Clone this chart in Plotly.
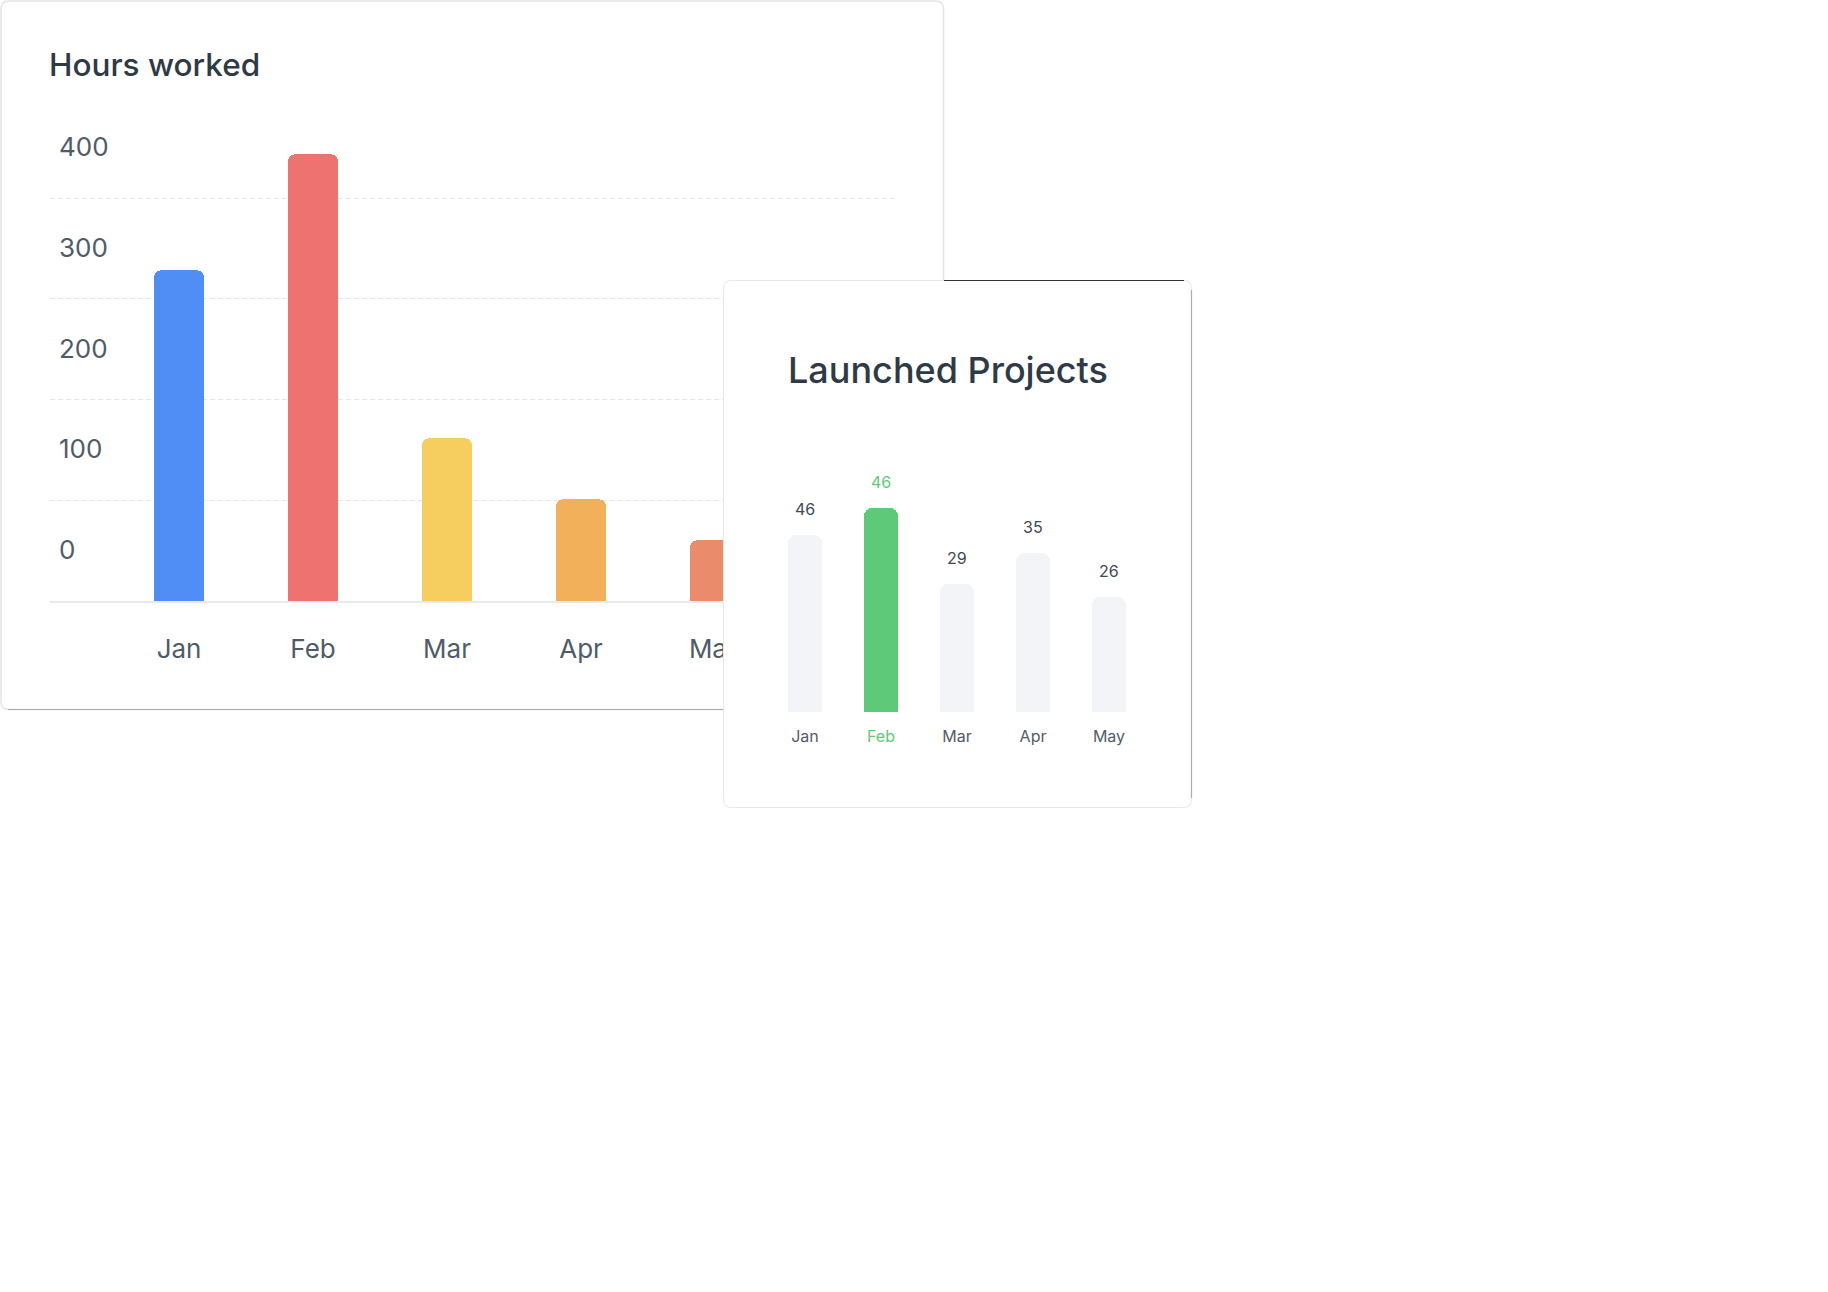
import plotly.graph_objects as go

W, H = 1828, 1292

# ---------------- data ----------------
# Card 1: Hours worked
hours_months = ["Jan", "Feb", "Mar", "Apr", "May"]
hours_values = [328, 443, 162, 101, 60]
hours_colors = ["#508ef5", "#ee7270", "#f6cd5f", "#f2b05a", "#ea8b6b"]
hours_tickvals = [0, 100, 200, 300, 400]
hours_ticktext = ["0", "100", "200", "300", "400"]

# Card 2: Launched Projects
proj_months = ["Jan", "Feb", "Mar", "Apr", "May"]
proj_values = [40, 46, 29, 36, 26]
proj_labels = ["46", "46", "29", "35", "26"]
proj_highlight = "Feb"

GREEN = "#5ec978"
GREY_BAR = "#f3f4f8"
TEXT_DARK = "#2e3a45"
TEXT_AXIS = "#4f5b69"
FONT = "Inter"


def fx(px):
    return px / W


def fy(py):
    return 1 - py / H


def rr_path(x0, y0, x1, y1, r):
    def P(x, y):
        return f"{fx(x):.6f},{fy(y):.6f}"
    return (f"M {P(x0 + r, y0)} L {P(x1 - r, y0)} Q {P(x1, y0)} {P(x1, y0 + r)} "
            f"L {P(x1, y1 - r)} Q {P(x1, y1)} {P(x1 - r, y1)} L {P(x0 + r, y1)} "
            f"Q {P(x0, y1)} {P(x0, y1 - r)} L {P(x0, y0 + r)} Q {P(x0, y0)} {P(x0 + r, y0)} Z")


fig = go.Figure()

# Card 1 bars
fig.add_trace(go.Bar(
    x=hours_months, y=hours_values, marker=dict(color=hours_colors, cornerradius=7, line=dict(width=0)),
    width=0.373, xaxis="x", yaxis="y", hoverinfo="skip", showlegend=False,
))

# Card 2 bars
proj_colors = [GREEN if m == proj_highlight else GREY_BAR for m in proj_months]
fig.add_trace(go.Bar(
    x=proj_months, y=proj_values, marker=dict(color=proj_colors, cornerradius=8, line=dict(width=0)),
    width=0.447, xaxis="x2", yaxis="y2", hoverinfo="skip", showlegend=False,
))

proj_ticktext = [f"<span style='color:{GREEN}'>{m}</span>" if m == proj_highlight else m for m in proj_months]

annotations = [
    dict(text="Hours worked", x=fx(46.5), y=fy(64.5), xref="paper", yref="paper",
         xanchor="left", yanchor="middle", showarrow=False,
         font=dict(family=FONT, size=31.5, color=TEXT_DARK, weight=500)),
    dict(text="Launched Projects", x=fx(786), y=fy(370), xref="paper", yref="paper",
         xanchor="left", yanchor="middle", showarrow=False,
         font=dict(family=FONT, size=36, color=TEXT_DARK, weight=500)),
]
for m, v, lab in zip(proj_months, proj_values, proj_labels):
    annotations.append(dict(
        text=lab, x=m, y=v, xref="x2", yref="y2", yshift=26, xanchor="center", yanchor="middle",
        showarrow=False,
        font=dict(family=FONT, size=16, color=GREEN if m == proj_highlight else "#3f4854")))

shapes = [
    # card 1
    dict(type="path", path=rr_path(1, 1, 943.5, 709.5, 8), xref="paper", yref="paper",
         line=dict(color="#e1e4e9", width=1.5), fillcolor="rgba(0,0,0,0)", layer="below"),
    dict(type="line", x0=fx(8), x1=fx(936), y0=fy(709.5), y1=fy(709.5), xref="paper", yref="paper",
         line=dict(color="#a8abb0", width=1.2), layer="below"),
    # card 2
    dict(type="path", path=rr_path(723.5, 280.5, 1191.5, 807.5, 8), xref="paper", yref="paper",
         line=dict(color="#e6e8eb", width=1), fillcolor="rgba(0,0,0,0)", layer="above"),
    dict(type="line", x0=fx(944), x1=fx(1184), y0=fy(280.5), y1=fy(280.5), xref="paper", yref="paper",
         line=dict(color="#333333", width=1.2), layer="above"),
    dict(type="line", x0=fx(1191.5), x1=fx(1191.5), y0=fy(290), y1=fy(798), xref="paper", yref="paper",
         line=dict(color="#a9adb3", width=1.2), layer="above"),
]

fig.update_layout(
    width=W, height=H, margin=dict(l=0, r=0, t=0, b=0, pad=0),
    paper_bgcolor="white", plot_bgcolor="white",
    font=dict(family=FONT),
    showlegend=False, bargap=0,
    annotations=annotations, shapes=shapes,
    xaxis=dict(
        domain=[fx(50), fx(895)], anchor="y", type="category",
        range=[-0.963, 5.343], showgrid=False, zeroline=False,
        showline=True, linecolor="#e8e9ee", linewidth=2, ticks="",
        tickfont=dict(family=FONT, size=26, color=TEXT_AXIS),
        ticklabelstandoff=24, fixedrange=True,
    ),
    yaxis=dict(
        domain=[fy(601), fy(97.25)], anchor="x",
        range=[0, 500], tickvals=hours_tickvals, ticktext=hours_ticktext,
        showgrid=True, gridcolor="#e3e6ee", gridwidth=1, griddash="5px,3px",
        zeroline=False, showline=False, ticks="",
        ticklabelposition="inside", ticklabelshift=-51, ticklabelstandoff=6,
        tickfont=dict(family=FONT, size=26, color=TEXT_AXIS), fixedrange=True,
    ),
    xaxis2=dict(
        domain=[fx(723), fx(1192)], anchor="free", position=fy(712), type="category",
        range=[-1.079, 5.092], showgrid=False, zeroline=False, showline=False, ticks="",
        tickvals=proj_months, ticktext=proj_ticktext,
        tickfont=dict(family=FONT, size=16, color="#525c69"),
        ticklabelstandoff=13, fixedrange=True,
    ),
    yaxis2=dict(
        domain=[fy(808), fy(280)], anchor="x2",
        range=[-21.67, 97.52], showgrid=False, zeroline=False, showline=False,
        showticklabels=False, ticks="", fixedrange=True,
    ),
)

fig.write_html("out.html", config={"displayModeBar": False, "responsive": False})
